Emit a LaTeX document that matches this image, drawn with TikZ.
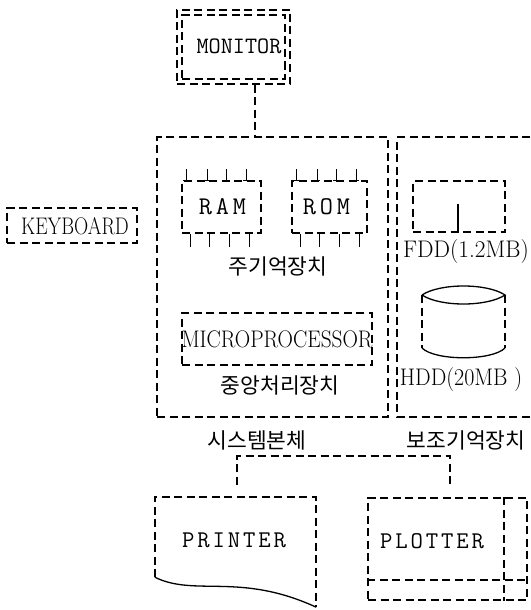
\documentclass[tikz,border=0pt]{standalone}
\usepackage{fontspec}
\usepackage{graphicx}
\usetikzlibrary{calc}
\newfontfamily\krfont{Noto Sans CJK KR}
\newfontfamily\widemono[LetterSpace=15]{Latin Modern Mono}
\newfontfamily\spacemono[LetterSpace=12]{Latin Modern Mono}

\begin{document}
\begin{tikzpicture}[
    x=1pt, y=-1pt,
    dline/.style={
        line width=1.5pt,
        dash pattern=on 8pt off 4.5pt
    },
    dbox/.style={
        rectangle,
        draw,
        dline,
        inner sep=0pt
    },
    pin/.style={
        line width=1.3pt
    },
    link/.style={
        dline
    },
    mono/.style={
        font=\fontsize{23.5}{27}\selectfont\ttfamily
    },
    chiptext/.style={
        font=\fontsize{25.5}{29}\selectfont\widemono
    },
    spaced/.style={
        font=\fontsize{24}{28}\selectfont\spacemono
    },
    roman/.style={
        font=\fontsize{24}{28}\selectfont\rmfamily
    },
    kor/.style={
        font=\fontsize{21.5}{25}\selectfont\krfont
    }
]

\useasboundingbox (0,0) rectangle (530,610);

% ------------------------------------------------
% Monitor
% ------------------------------------------------
\node[dbox, minimum width=113pt, minimum height=74pt] (monout) at (233.5,47) {};
\node[dbox, minimum width=103pt, minimum height=64pt] (monin) at (233.5,47) {};
\node[mono] (montext) at (239,46) {MONITOR};

% ------------------------------------------------
% System box and auxiliary box
% ------------------------------------------------
\node[dbox, minimum width=231pt, minimum height=280pt] (sysbox) at (272.5,277) {};
\coordinate (auxnw) at (397,137);
\coordinate (auxsw) at (397,417);
\draw[dline] (530,137) -- (auxnw) -- (auxsw) -- (530,417);

\draw[link] ([xshift=21.5pt]monout.south) -- ([xshift=21.5pt]monout.south |- sysbox.north);

% ------------------------------------------------
% Main memory
% ------------------------------------------------
\node[dbox, minimum width=79pt, minimum height=52pt] (ram) at (221.5,207) {};
\node[chiptext] (ramtext) at (222.5,207) {RAM};
\node[dbox, minimum width=75pt, minimum height=52pt] (rom) at (329.5,207) {};
\node[chiptext] (romtext) at (326.5,207) {ROM};

\foreach \chip in {ram,rom}{
  \foreach \dx in {5,26,45,65}{
    \draw[pin] ([xshift=\dx pt]\chip.north west) -- ++(0,-11);
    \draw[pin] ([xshift=\dx pt]\chip.north west) ++(-3,0) -- ++(6,0);
  }
  \foreach \dx in {9,28,48,68}{
    \draw[pin] ([xshift=\dx pt]\chip.south west) -- ++(0,13);
  }
}

\node[kor] (mainmem) at (278,266) {주기억장치};

% ------------------------------------------------
% CPU
% ------------------------------------------------
\node[dbox, minimum width=190pt, minimum height=52pt] (cpu) at (277,339) {};
\node[roman] (cputext) at (277,339) {\scalebox{0.89}[1]{MICROPROCESSOR}};
\node[kor] (cpulabel) at (280,385) {중앙처리장치};

\node[kor] (syslabel) at (257,440) {시스템본체};
\node[kor] (auxlabel) at (466,440) {보조기억장치};

% ------------------------------------------------
% Keyboard
% ------------------------------------------------
\node[dbox, minimum width=130pt, minimum height=35pt] (keyboard) at (72,225.5) {};
\node[roman] (keytext) at (75,226) {\scalebox{0.82}[1]{KEYBOARD}};

% ------------------------------------------------
% FDD and HDD
% ------------------------------------------------
\node[dbox, minimum width=92pt, minimum height=51pt] (fdd) at (459,206.5) {};
\draw[pin] ([xshift=-1pt]fdd.south) -- ++(0,-29);
\node[roman] (fddlabel) at (466,252) {\scalebox{0.97}[1]{FDD(1.2MB)}};

\coordinate (hddtl) at (422,295);
\coordinate (hddtr) at (505,295);
\coordinate (hddbl) at (422,348);
\coordinate (hddbr) at (505,348);
\draw[line width=1.3pt] (hddtl) .. controls (440,283) and (487,283) .. (hddtr)
                               .. controls (487,307) and (440,307) .. (hddtl);
\draw[dline] (hddtl) -- (hddbl);
\draw[dline] (hddtr) -- (hddbr);
\draw[line width=1.3pt] (hddbl) .. controls (435,361) and (492,361) .. (hddbr);
\node[roman] (hddlabel) at (461,380) {\scalebox{0.92}[1]{HDD(20MB )}};

% ------------------------------------------------
% Printer and plotter
% ------------------------------------------------
\node[minimum width=161pt, minimum height=110pt, inner sep=0pt] (printer) at (235.5,552) {};
\draw[dline] ([yshift=30pt]printer.south west) |- (printer.north east) -- (printer.south east);
\draw[line width=1.3pt] ([yshift=30pt]printer.south west) .. controls (195,597) and (240,572) .. (printer.south east);
\node[spaced] (printext) at (234,540) {PRINTER};

\node[dbox, minimum width=159pt, minimum height=102pt] (plotter) at (447.5,549) {};
\draw[dline] ([xshift=-24pt]plotter.north east) -- ([xshift=-24pt]plotter.south east);
\draw[dline] ([yshift=21pt]plotter.south west) -- ([yshift=21pt]plotter.south east);
\node[spaced] (plottext) at (432,541) {PLOTTER};

\draw[link] ([xshift=1.5pt, yshift=12pt]printer.north) -- ([xshift=1.5pt, yshift=41pt]printer.north)
            -| ([xshift=2.5pt, yshift=12pt]plotter.north);

\end{tikzpicture}
\end{document}
